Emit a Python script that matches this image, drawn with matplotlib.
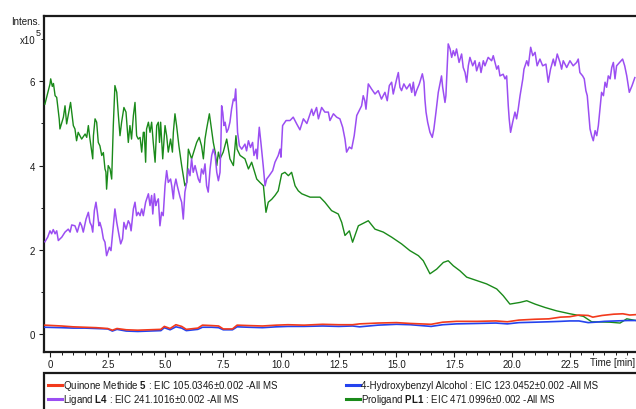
import matplotlib
matplotlib.use("Agg")
import matplotlib.pyplot as plt
from matplotlib.lines import Line2D
from matplotlib.patches import Rectangle
from matplotlib.ticker import MultipleLocator, FixedLocator, FuncFormatter

plt.rcParams["font.family"] = ["Liberation Sans", "DejaVu Sans"]
plt.rcParams["mathtext.fontset"] = "custom"
plt.rcParams["mathtext.rm"] = "Liberation Sans"
plt.rcParams["mathtext.bf"] = "Liberation Sans:bold"

# Extracted ion chromatograms (time in min, intensity in 1e5 counts)
proligand_t = [-0.22, 0.0, 0.03, 0.1, 0.15, 0.22, 0.29, 0.4, 0.43, 0.58, 0.65, 0.72, 0.84, 0.89,
               1.01, 1.08, 1.15, 1.22, 1.37, 1.52, 1.59, 1.66, 1.73, 1.85, 1.88, 1.95, 2.02, 2.09,
               2.16, 2.24, 2.31, 2.38, 2.42, 2.45, 2.52, 2.6, 2.67, 2.74, 2.81, 2.89, 2.96, 3.03,
               3.1, 3.2, 3.29, 3.39, 3.46, 3.53, 3.61, 3.68, 3.75, 3.82, 3.9, 3.97, 4.04, 4.08,
               4.14, 4.18, 4.26, 4.33, 4.4, 4.47, 4.55, 4.62, 4.69, 4.74, 4.79, 4.88, 4.98, 5.05,
               5.12, 5.22, 5.3, 5.34, 5.41, 5.48, 5.58, 5.7, 5.84, 5.92, 5.99, 6.13, 6.35, 6.46,
               6.56, 6.64, 6.71, 6.78, 6.9, 7.07, 7.15, 7.22, 7.29, 7.36, 7.5, 7.65, 7.79, 7.94,
               8.05, 8.1, 8.23, 8.44, 8.59, 8.73, 8.95, 9.09, 9.24, 9.35, 9.45, 9.6, 9.74, 9.88,
               10.03, 10.17, 10.32, 10.46, 10.61, 10.75, 10.9, 11.26, 11.69, 11.9, 12.19, 12.48,
               12.63, 12.77, 12.96, 13.1, 13.35, 13.78, 14.07, 14.43, 14.79, 15.22, 15.58, 15.95,
               16.16, 16.45, 16.74, 17.03, 17.24, 17.46, 17.75, 18.04, 18.47, 18.9, 19.34, 19.62,
               19.91, 20.35, 20.64, 21.0, 21.43, 21.93, 22.51, 23.09, 23.45, 24.24, 24.68, 24.97,
               25.37]
proligand_v = [5.46, 5.94, 6.06, 5.88, 5.95, 5.66, 5.62, 5.1, 4.87, 5.15, 5.42, 4.99, 5.34, 5.5,
               4.95, 4.87, 4.59, 4.79, 4.63, 4.75, 4.67, 4.95, 4.63, 4.16, 4.71, 5.11, 5.03, 4.55,
               4.47, 4.24, 4.31, 3.92, 3.85, 3.44, 4.0, 3.92, 3.68, 4.95, 5.9, 5.74, 5.19, 4.71,
               5.03, 5.38, 5.27, 4.55, 4.95, 4.63, 5.19, 5.5, 4.71, 4.63, 4.67, 4.32, 4.79, 4.79,
               4.08, 4.87, 5.03, 4.79, 5.03, 4.55, 4.08, 4.95, 5.03, 4.55, 5.03, 4.16, 4.95, 4.71,
               4.32, 4.63, 4.32, 4.79, 5.23, 4.95, 4.47, 4.0, 3.52, 3.6, 4.39, 4.16, 4.55, 4.67,
               4.47, 4.16, 4.63, 4.87, 5.23, 4.55, 4.32, 4.0, 4.32, 4.16, 4.32, 4.63, 4.16, 4.0,
               4.71, 4.39, 4.24, 4.16, 3.92, 4.08, 3.68, 3.6, 3.52, 2.89, 3.13, 3.2, 3.29, 3.4,
               3.8, 3.84, 3.76, 3.84, 3.52, 3.4, 3.33, 3.25, 3.25, 3.13, 2.93, 2.85,
               2.65, 2.34, 2.45, 2.18, 2.57, 2.69, 2.49, 2.42, 2.3, 2.14, 1.98, 1.86,
               1.74, 1.43, 1.54, 1.70, 1.74, 1.62, 1.5, 1.35, 1.27, 1.19, 1.07, 0.91,
               0.71, 0.75, 0.79, 0.71, 0.63, 0.55, 0.48, 0.42, 0.29, 0.28, 0.26, 0.36,
               0.32]

ligand_t = [-0.22, -0.1, 0.0, 0.07, 0.14, 0.22, 0.29, 0.36, 0.51, 0.65, 0.79, 0.87, 0.94, 1.08,
            1.18, 1.30, 1.37, 1.44, 1.56, 1.66, 1.73, 1.8, 1.85, 1.92, 1.99, 2.05, 2.12, 2.16,
            2.24, 2.31, 2.38, 2.45, 2.57, 2.64, 2.74, 2.81, 2.89, 2.99, 3.06, 3.14, 3.2, 3.29,
            3.39, 3.46, 3.51, 3.61, 3.68, 3.75, 3.82, 3.9, 3.97, 4.04, 4.14, 4.26, 4.33, 4.4,
            4.45, 4.52, 4.58, 4.62, 4.69, 4.76, 4.83, 4.9, 4.98, 5.05, 5.12, 5.22, 5.27, 5.34,
            5.38, 5.45, 5.51, 5.63, 5.7, 5.77, 5.84, 5.92, 5.99, 6.06, 6.13, 6.2, 6.28, 6.42,
            6.49, 6.56, 6.64, 6.71, 6.78, 6.85, 6.93, 7.0, 7.07, 7.15, 7.22, 7.29, 7.36, 7.40,
            7.43, 7.48, 7.53, 7.58, 7.65, 7.72, 7.79, 7.86, 7.94, 7.99, 8.04, 8.08, 8.12, 8.2,
            8.30, 8.44, 8.51, 8.59, 8.68, 8.77, 8.83, 8.92, 8.97, 9.02, 9.06, 9.13, 9.23, 9.31,
            9.38, 9.49, 9.64, 9.74, 9.88, 9.96, 10.0, 10.07, 10.22, 10.39, 10.53, 10.68, 10.82,
            10.97, 11.12, 11.26, 11.33, 11.4, 11.54, 11.62, 11.76, 11.9, 12.05, 12.12, 12.27,
            12.41, 12.55, 12.67, 12.77, 12.84, 12.96, 13.06, 13.17, 13.28, 13.42, 13.49, 13.56,
            13.63, 13.68, 13.78, 13.92, 14.07, 14.21, 14.35, 14.5, 14.6, 14.69, 14.79, 14.86,
            15.01, 15.08, 15.15, 15.22, 15.32, 15.44, 15.58, 15.66, 15.73, 15.80, 15.87, 15.99,
            16.12, 16.19, 16.23, 16.28, 16.35, 16.45, 16.55, 16.62, 16.71, 16.81, 16.95, 17.0,
            17.1, 17.14, 17.24, 17.32, 17.39, 17.46, 17.53, 17.6, 17.71, 17.82, 17.89, 17.97,
            18.04, 18.11, 18.18, 18.30, 18.4, 18.47, 18.59, 18.66, 18.76, 18.83, 18.97, 19.12,
            19.19, 19.34, 19.41, 19.48, 19.62, 19.70, 19.77, 19.84, 19.88, 19.94, 20.03, 20.13,
            20.2, 20.27, 20.35, 20.42, 20.47, 20.52, 20.64, 20.71, 20.81, 20.90, 21.0, 21.09,
            21.21, 21.33, 21.47, 21.57, 21.67, 21.79, 21.86, 21.96, 22.08, 22.15, 22.22, 22.37,
            22.51, 22.65, 22.80, 22.87, 22.94, 23.06, 23.13, 23.20, 23.26, 23.33, 23.38, 23.45,
            23.52, 23.6, 23.67, 23.74, 23.81, 23.88, 23.96, 24.03, 24.1, 24.17, 24.25, 24.32,
            24.39, 24.46, 24.53, 24.66, 24.79, 24.88, 24.97, 25.08, 25.2, 25.32]
ligand_v = [2.19, 2.3, 2.45, 2.38, 2.48, 2.38, 2.45, 2.22, 2.30, 2.42, 2.49, 2.42, 2.59, 2.57,
            2.42, 2.65, 2.57, 2.42, 2.73, 2.89, 2.65, 2.57, 2.42, 2.93, 3.13, 2.89, 2.57, 2.65,
            2.49, 2.26, 2.18, 1.86, 2.06, 1.98, 2.57, 2.97, 2.65, 2.34, 2.14, 2.26, 2.65, 2.49,
            2.69, 2.61, 2.45, 2.97, 3.13, 2.81, 2.89, 2.81, 2.97, 2.81, 3.13, 3.33, 3.05, 3.29,
            2.85, 3.33, 3.05, 3.13, 3.21, 2.57, 2.89, 2.81, 3.52, 3.88, 3.6, 3.68, 3.52, 3.21,
            3.49, 3.68, 3.52, 3.25, 3.13, 2.73, 3.37, 3.6, 3.92, 3.76, 4.16, 3.84, 4.0, 3.68,
            3.6, 3.92, 3.8, 4.04, 3.52, 3.37, 3.92, 4.24, 4.39, 4.24, 3.84, 3.64, 3.84, 4.55,
            5.42, 5.26, 4.95, 5.03, 4.79, 4.87, 5.03, 5.34, 5.58, 5.54, 5.82, 5.34, 4.79, 4.47,
            4.39, 4.51, 4.35, 4.59, 4.43, 4.55, 4.24, 4.39, 4.16, 4.63, 4.91, 4.55, 4.0, 3.52,
            3.68, 3.76, 3.88, 4.08, 4.24, 4.39, 4.2, 4.95, 5.07, 5.07, 5.15, 4.99, 4.85,
            5.11, 5.0, 5.23, 5.34, 5.19, 5.38, 5.11, 5.38, 5.27, 5.27, 5.07, 5.23,
            5.15, 5.11, 4.91, 4.63, 4.32, 4.44, 4.40, 4.71, 5.19, 5.34, 5.42, 5.66,
            5.54, 5.34, 5.94, 5.82, 5.70, 5.78, 5.58, 5.74, 5.54, 5.90, 5.98, 5.70,
            6.06, 6.21, 5.86, 5.78, 5.94, 5.82, 5.94, 5.74, 5.98, 5.66, 5.78, 5.94,
            6.18, 5.98, 5.58, 5.27, 5.03, 4.79, 4.67, 4.87, 5.27, 5.74, 6.13, 5.86,
            5.50, 5.66, 6.89, 6.77, 6.57, 6.73, 6.61, 6.77, 6.45, 6.65, 6.33, 6.21,
            5.98, 6.37, 6.57, 6.37, 6.49, 6.25, 6.45, 6.21, 6.49, 6.37, 6.57, 6.49,
            6.61, 6.29, 6.37, 6.13, 6.17, 6.06, 6.13, 5.42, 5.11, 4.79, 5.03, 5.27,
            5.11, 5.34, 5.66, 5.90, 6.06, 6.29, 6.49, 6.37, 6.81, 6.61, 6.69, 6.37,
            6.53, 6.37, 6.41, 5.98, 6.29, 6.53, 6.37, 6.65, 6.45, 6.29, 6.49, 6.33,
            6.49, 6.37, 6.45, 6.53, 6.21, 6.13, 6.06, 5.78, 5.66, 5.19, 4.87, 4.71,
            4.59, 4.83, 4.71, 4.95, 5.34, 5.74, 5.66, 5.98, 5.86, 6.13, 6.06, 6.33,
            6.45, 6.06, 6.37, 6.45, 6.53, 6.37, 6.13, 5.74, 5.90, 6.09]

quinone_t = [-0.22, 0.5, 1.0, 1.5, 2.0, 2.5, 2.7, 2.9, 3.3, 3.8, 4.3, 4.8, 4.95, 5.2, 5.45, 5.7,
             5.9, 6.4, 6.6, 7.0, 7.3, 7.5, 7.9, 8.1, 8.6, 9.2, 9.8, 10.3, 11.0, 11.8, 12.5, 13.1,
             13.4, 14.2, 15.0, 15.6, 16.5, 17.0, 17.6, 18.5, 19.3, 19.8, 20.3, 21.0, 21.6, 22.1,
             22.5, 22.9, 23.3, 23.5, 23.9, 24.4, 24.8, 25.1, 25.37]
quinone_v = [0.21, 0.19, 0.17, 0.16, 0.15, 0.13, 0.09, 0.13, 0.10, 0.09, 0.10, 0.11, 0.18, 0.13,
             0.22, 0.18, 0.11, 0.14, 0.21, 0.20, 0.19, 0.12, 0.12, 0.21, 0.20, 0.19, 0.21, 0.22,
             0.21, 0.23, 0.22, 0.22, 0.24, 0.26, 0.27, 0.25, 0.23, 0.28, 0.30, 0.30, 0.31, 0.29,
             0.33, 0.35, 0.36, 0.40, 0.41, 0.45, 0.44, 0.40, 0.44, 0.47, 0.48, 0.45, 0.46]

alcohol_t = [-0.22, 0.5, 1.0, 1.5, 2.0, 2.5, 2.7, 2.9, 3.3, 3.8, 4.3, 4.8, 4.95, 5.2, 5.45, 5.7,
             5.9, 6.4, 6.6, 7.0, 7.3, 7.5, 7.9, 8.1, 8.6, 9.2, 9.8, 10.3, 11.0, 11.8, 12.5, 13.1,
             13.4, 14.2, 15.0, 15.6, 16.5, 17.0, 17.6, 18.5, 19.3, 19.8, 20.3, 21.0, 21.6, 22.1,
             22.5, 22.9, 23.3, 23.6, 24.0, 24.5, 25.0, 25.37]
alcohol_v = [0.16, 0.15, 0.14, 0.14, 0.13, 0.12, 0.07, 0.11, 0.07, 0.06, 0.07, 0.08, 0.15, 0.10,
             0.17, 0.14, 0.08, 0.11, 0.16, 0.16, 0.15, 0.10, 0.10, 0.17, 0.16, 0.15, 0.17, 0.18,
             0.18, 0.19, 0.18, 0.19, 0.17, 0.21, 0.23, 0.22, 0.18, 0.22, 0.24, 0.25, 0.26, 0.24,
             0.27, 0.28, 0.29, 0.30, 0.31, 0.31, 0.27, 0.28, 0.30, 0.31, 0.32, 0.32]

x_ticks = [0, 2.5, 5.0, 7.5, 10.0, 12.5, 15.0, 17.5, 20.0, 22.5]
y_ticks = [0, 2, 4, 6]

legend_entries = [
    ("#f23a1c", r"Quinone Methide $\mathbf{5}$ : EIC 105.0346±0.002 -All MS"),
    ("#2443ee", "4-Hydroxybenzyl Alcohol : EIC 123.0452±0.002 -All MS"),
    ("#9b4ef2", r"Ligand $\mathbf{L4}$ : EIC 241.1016±0.002 -All MS"),
    ("#1a8a1a", r"Proligand $\mathbf{PL1}$ : EIC 471.0996±0.002 -All MS"),
]

W, H = 636, 410
fig = plt.figure(figsize=(W / 100, H / 100), dpi=100)
ax = fig.add_axes([44 / W, (H - 352.5) / H, 1 - 44 / W, (352.5 - 16.7) / H])

ax.plot(proligand_t, proligand_v, color="#1a8a1a", lw=1.0, zorder=3)
ax.plot(ligand_t, ligand_v, color="#9b4ef2", lw=1.1, zorder=4)
ax.plot(alcohol_t, alcohol_v, color="#2443ee", lw=1.2, zorder=5)
ax.plot(quinone_t, quinone_v, color="#f23a1c", lw=1.2, zorder=6)

ax.set_xlim(-0.26, 25.37)
ax.set_ylim(-0.416, 7.56)

ax.xaxis.set_major_locator(FixedLocator(x_ticks))
ax.xaxis.set_minor_locator(MultipleLocator(0.5))
ax.xaxis.set_major_formatter(FuncFormatter(lambda v, p: "0" if v == 0 else f"{v:.1f}"))
ax.yaxis.set_major_locator(FixedLocator(y_ticks))
ax.yaxis.set_minor_locator(FixedLocator([1, 3, 5, 7]))

for side in ("left", "bottom", "top"):
    ax.spines[side].set_linewidth(1.6)
    ax.spines[side].set_color("#1a1a1a")
ax.spines["right"].set_visible(False)

ax.tick_params(axis="both", which="major", labelsize=7, colors="#1a1a1a",
               width=0.8, length=3.5, pad=2)
ax.tick_params(axis="both", which="minor", width=0.7, length=2, colors="#1a1a1a")
ax.tick_params(axis="y", which="major", pad=3)

# Axis captions in the Bruker style
fig.text(40.5 / W, (H - 22) / H, "Intens.", ha="right", va="center", fontsize=7,
         color="#1a1a1a")
fig.text(36 / W, (H - 41) / H, "x10", ha="right", va="center", fontsize=7, color="#1a1a1a")
fig.text(36 / W, (H - 34) / H, "5", ha="left", va="center", fontsize=6.5, color="#1a1a1a")
fig.text(590 / W, (H - 363) / H, "Time [min]", ha="left", va="center", fontsize=7,
         color="#1a1a1a")

# Legend frame spanning the bottom strip
fig.add_artist(Rectangle((43.5 / W, -0.05), 1.0, (H - 374) / H + 0.05,
                         transform=fig.transFigure, fill=False, lw=1.6,
                         edgecolor="#1a1a1a", clip_on=False))

rows = [(H - 386) / H, (H - 400) / H]
cols = [(48, 63), (346, 361)]
for i, (color, label) in enumerate(legend_entries):
    r, c = divmod(i, 2)
    x0, xt = cols[c]
    y = rows[r]
    fig.add_artist(Line2D([x0 / W, (x0 + 14) / W], [y, y], color=color, lw=2.2,
                          transform=fig.transFigure))
    fig.text(xt / W, y, label, ha="left", va="center", fontsize=7, color="#1a1a1a")

fig.savefig("out.png", dpi=100)
